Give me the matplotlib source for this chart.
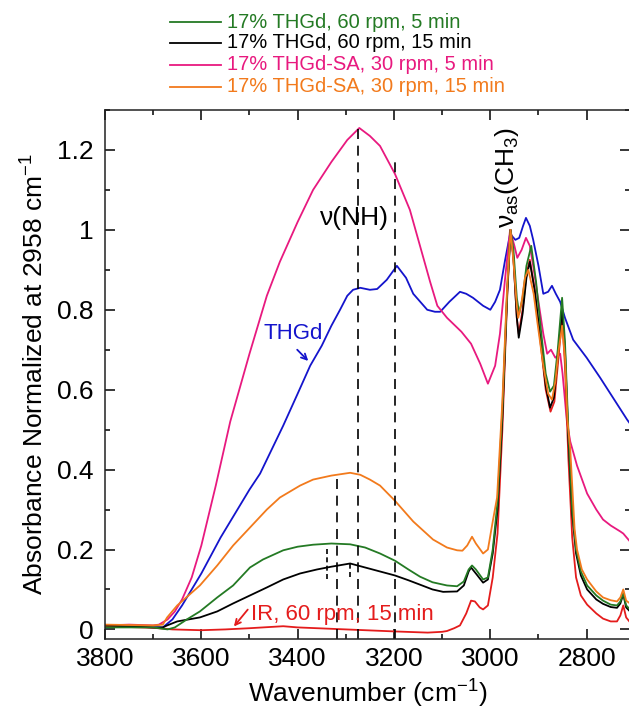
import matplotlib
matplotlib.use('Agg')
import matplotlib.pyplot as plt
from matplotlib.lines import Line2D
from matplotlib.ticker import MultipleLocator, FuncFormatter

plt.rcParams['font.family'] = ['Liberation Sans', 'DejaVu Sans']
plt.rcParams['mathtext.fontset'] = 'custom'
plt.rcParams['mathtext.rm'] = 'Liberation Sans'
plt.rcParams['mathtext.it'] = 'Liberation Sans:italic'
plt.rcParams['mathtext.default'] = 'regular'

# colours
green = '#247a24'
black = '#000000'
magenta = '#e8197f'
orange = '#f27a1c'
blue = '#1414cc'
red = '#e41c1c'

# ---- spectra (wavenumber, absorbance normalized at 2958 cm-1) ----
sa5_wn = [3800, 3750, 3700, 3688, 3670, 3655, 3640, 3620, 3600, 3570, 3540, 3500,
          3464, 3437, 3400, 3368, 3330, 3297, 3272, 3250, 3229, 3198, 3167, 3146,
          3125, 3110, 3090, 3060, 3040, 3021, 3005, 2990, 2980, 2970, 2959, 2950,
          2944, 2935, 2926, 2918, 2911, 2900, 2890, 2882, 2874, 2865, 2855, 2850,
          2841, 2834, 2820, 2799, 2780, 2766, 2750, 2730, 2724, 2710]
sa5_abs = [0.01, 0.012, 0.01, 0.012, 0.025, 0.045, 0.075, 0.13, 0.21, 0.36, 0.52, 0.69,
           0.835, 0.92, 1.02, 1.10, 1.17, 1.225, 1.255, 1.235, 1.21, 1.14, 1.05, 0.96,
           0.87, 0.81, 0.78, 0.745, 0.715, 0.665, 0.615, 0.66, 0.74, 0.87, 1.0, 0.96,
           0.93, 0.95, 0.98, 0.96, 0.91, 0.82, 0.74, 0.69, 0.70, 0.68, 0.69, 0.64,
           0.52, 0.47, 0.41, 0.34, 0.30, 0.275, 0.26, 0.245, 0.24, 0.22]

thgd_wn = [3800, 3750, 3700, 3680, 3660, 3640, 3620, 3600, 3580, 3560, 3540, 3520,
           3500, 3478, 3450, 3430, 3400, 3374, 3350, 3330, 3312, 3297, 3285, 3270,
           3250, 3235, 3215, 3194, 3175, 3160, 3131, 3115, 3104, 3085, 3063, 3050,
           3036, 3015, 3000, 2990, 2980, 2970, 2959, 2948, 2940, 2932, 2926, 2918,
           2911, 2900, 2890, 2880, 2872, 2864, 2855, 2845, 2828, 2800, 2772, 2740,
           2716, 2710]
thgd_abs = [0.005, 0.008, 0.005, 0.005, 0.025, 0.06, 0.10, 0.14, 0.185, 0.23, 0.27, 0.31,
            0.35, 0.39, 0.46, 0.51, 0.59, 0.66, 0.71, 0.76, 0.80, 0.835, 0.85, 0.855,
            0.85, 0.852, 0.875, 0.91, 0.88, 0.84, 0.80, 0.795, 0.795, 0.82, 0.845, 0.84,
            0.83, 0.81, 0.80, 0.82, 0.85, 0.92, 0.99, 0.975, 0.98, 1.01, 1.03, 1.01,
            0.975, 0.91, 0.84, 0.845, 0.86, 0.84, 0.82, 0.78, 0.725, 0.68, 0.63, 0.57,
            0.525, 0.515]

g5_wn = [3800, 3700, 3670, 3655, 3630, 3603, 3567, 3534, 3499, 3472, 3430, 3400,
         3368, 3330, 3291, 3260, 3229, 3198, 3170, 3146, 3120, 3090, 3069, 3055,
         3045, 3038, 3030, 3015, 3005, 2995, 2985, 2975, 2965, 2958, 2952, 2945,
         2940, 2933, 2925, 2915, 2905, 2895, 2885, 2876, 2868, 2860, 2851, 2845,
         2838, 2830, 2822, 2812, 2799, 2780, 2766, 2750, 2737, 2730, 2724, 2718, 2710]
g5_abs = [0.005, 0.005, 0.0, 0.005, 0.025, 0.045, 0.08, 0.11, 0.155, 0.175, 0.198, 0.207,
          0.212, 0.215, 0.213, 0.205, 0.19, 0.172, 0.15, 0.132, 0.118, 0.11, 0.108, 0.12,
          0.15, 0.16, 0.15, 0.125, 0.13, 0.20, 0.32, 0.55, 0.85, 1.0, 0.95, 0.83,
          0.79, 0.83, 0.91, 0.96, 0.87, 0.75, 0.64, 0.595, 0.61, 0.70, 0.83, 0.72,
          0.50, 0.30, 0.20, 0.145, 0.11, 0.085, 0.072, 0.062, 0.06, 0.07, 0.09, 0.06, 0.05]

g15_wn = [3800, 3700, 3680, 3671, 3650, 3603, 3567, 3534, 3499, 3464, 3430, 3395,
          3360, 3330, 3291, 3260, 3229, 3198, 3170, 3146, 3120, 3098, 3069, 3055,
          3045, 3040, 3030, 3015, 3005, 2995, 2985, 2975, 2965, 2958, 2952, 2945,
          2941, 2933, 2925, 2918, 2908, 2895, 2885, 2876, 2868, 2860, 2851, 2845,
          2838, 2830, 2822, 2812, 2799, 2780, 2766, 2750, 2737, 2730, 2724, 2718, 2710]
g15_abs = [0.01, 0.005, 0.005, 0.01, 0.02, 0.03, 0.045, 0.065, 0.085, 0.105, 0.125, 0.14,
           0.15, 0.157, 0.165, 0.155, 0.145, 0.135, 0.123, 0.112, 0.10, 0.094, 0.095, 0.11,
           0.145, 0.155, 0.14, 0.117, 0.125, 0.19, 0.30, 0.53, 0.84, 1.0, 0.93, 0.78,
           0.73, 0.79, 0.88, 0.92, 0.85, 0.72, 0.61, 0.555, 0.58, 0.68, 0.80, 0.70,
           0.48, 0.29, 0.19, 0.135, 0.10, 0.075, 0.064, 0.056, 0.054, 0.065, 0.088, 0.055, 0.045]

sa15_wn = [3800, 3700, 3680, 3671, 3650, 3603, 3567, 3534, 3499, 3464, 3437, 3395,
           3368, 3330, 3291, 3270, 3250, 3229, 3198, 3160, 3119, 3090, 3069, 3058,
           3048, 3038, 3030, 3015, 3005, 2995, 2986, 2975, 2965, 2958, 2952, 2945,
           2942, 2935, 2928, 2921, 2910, 2903, 2890, 2880, 2872, 2865, 2858, 2851,
           2845, 2840, 2834, 2825, 2820, 2810, 2799, 2780, 2766, 2750, 2737, 2730,
           2724, 2718, 2710]
sa15_abs = [0.012, 0.01, 0.012, 0.03, 0.06, 0.11, 0.16, 0.21, 0.255, 0.30, 0.33, 0.36,
            0.375, 0.385, 0.392, 0.387, 0.375, 0.36, 0.322, 0.27, 0.225, 0.205, 0.198, 0.197,
            0.21, 0.232, 0.215, 0.19, 0.20, 0.27, 0.33, 0.57, 0.86, 1.0, 0.92, 0.81,
            0.78, 0.82, 0.88, 0.90, 0.84, 0.775, 0.66, 0.59, 0.575, 0.62, 0.70, 0.76,
            0.68, 0.525, 0.45, 0.25, 0.20, 0.15, 0.125, 0.095, 0.08, 0.073, 0.07, 0.08,
            0.10, 0.072, 0.065]

ir_wn = [3800, 3700, 3660, 3600, 3550, 3500, 3430, 3400, 3300, 3200, 3130, 3100,
         3090, 3075, 3063, 3050, 3040, 3032, 3022, 3015, 3005, 2995, 2985, 2975,
         2965, 2958, 2952, 2945, 2941, 2933, 2925, 2918, 2908, 2895, 2885, 2875,
         2867, 2860, 2851, 2845, 2838, 2830, 2822, 2812, 2799, 2780, 2766, 2750,
         2737, 2730, 2724, 2718, 2710]
ir_abs = [0.008, 0.004, 0.0, -0.002, 0.0, 0.003, 0.008, 0.005, 0.0, -0.005, -0.008, -0.006,
          -0.004, 0.003, 0.01, 0.04, 0.072, 0.07, 0.055, 0.05, 0.06, 0.13, 0.24, 0.50,
          0.83, 1.0, 0.93, 0.78, 0.74, 0.80, 0.89, 0.925, 0.85, 0.71, 0.60, 0.545,
          0.57, 0.66, 0.78, 0.66, 0.43, 0.23, 0.13, 0.085, 0.062, 0.04, 0.027, 0.02,
          0.02, 0.035, 0.06, 0.03, 0.018]

legend_labels = ['17% THGd, 60 rpm, 5 min', '17% THGd, 60 rpm, 15 min',
                 '17% THGd-SA, 30 rpm, 5 min', '17% THGd-SA, 30 rpm, 15 min']
legend_colors = [green, black, magenta, orange]

# dashed guide lines: (wavenumber, top)
guide_lines = [(3275, 1.262), (3198, 1.175), (3318, 0.38)]
short_guides = [(3339, 0.21, 0.125), (3291, 0.17, 0.13)]

fig = plt.figure(figsize=(6.29, 7.12), dpi=100)
ax = fig.add_axes([105/629, 1 - 639/712, 525/629, 529/712])

ax.plot(thgd_wn, thgd_abs, color=blue, lw=1.3)
ax.plot(sa5_wn, sa5_abs, color=magenta, lw=1.3)
ax.plot(ir_wn, ir_abs, color=red, lw=1.3)
ax.plot(g15_wn, g15_abs, color=black, lw=1.3)
ax.plot(g5_wn, g5_abs, color=green, lw=1.3)
ax.plot(sa15_wn, sa15_abs, color=orange, lw=1.3)

ymin = -0.024
for x, top in guide_lines:
    ax.plot([x, x], [ymin, top], color='black', lw=1.2, ls=(0, (6, 4)))
for x, top, bot in short_guides:
    ax.plot([x, x], [bot, top], color='black', lw=1.2, ls=(0, (3, 2)))

ax.set_xlim(3800, 2710)
ax.set_ylim(ymin, 1.3)

ax.xaxis.set_major_locator(MultipleLocator(200))
ax.xaxis.set_minor_locator(MultipleLocator(100))
ax.yaxis.set_major_locator(MultipleLocator(0.2))
ax.yaxis.set_minor_locator(MultipleLocator(0.1))
ax.yaxis.set_major_formatter(FuncFormatter(lambda v, p: '%g' % round(v, 2)))
ax.tick_params(which='both', direction='in', top=True, right=True, width=1.1)
ax.tick_params(which='major', length=7, labelsize=19)
ax.tick_params(which='minor', length=3.5)
ax.tick_params(axis='x', pad=6)
ax.tick_params(axis='y', pad=8)
for s in ax.spines.values():
    s.set_linewidth(1.1)
    s.set_color('#222222')

ax.set_xlabel('Wavenumber (cm$^{-1}$)', fontsize=19, labelpad=5)
ax.set_ylabel('Absorbance Normalized at 2958 cm$^{-1}$', fontsize=19, labelpad=6)

# annotations
ax.text(3283, 1.03, 'ν(NH)', fontsize=19, ha='center', va='center')
ax.text(2966, 1.005, r'$\nu_{as}$(CH$_3$)', fontsize=19, rotation=90,
        ha='center', va='bottom')
ax.text(3410, 0.74, 'THGd', fontsize=16, color=blue, ha='center', va='center')
ax.annotate('', xy=(3374, 0.667), xytext=(3405, 0.705),
            arrowprops=dict(arrowstyle='->', color=blue, lw=1.3))
ax.text(3497, 0.037, 'IR, 60 rpm, 15 min', fontsize=16, color=red,
        ha='left', va='center')
ax.annotate('', xy=(3536, 0.002), xytext=(3500, 0.055),
            arrowprops=dict(arrowstyle='->', color=red, lw=1.3))

# legend above the axes
row_y = [22, 43, 65, 87]
for py, lab, col in zip(row_y, legend_labels, legend_colors):
    fy = 1 - py / 712
    fig.add_artist(Line2D([170/629, 221/629], [fy, fy], color=col, lw=1.3,
                          transform=fig.transFigure))
    fig.text(227/629, fy, lab, color=col, fontsize=14.5, ha='left', va='center')

fig.savefig('out.png', dpi=100, facecolor='white')
